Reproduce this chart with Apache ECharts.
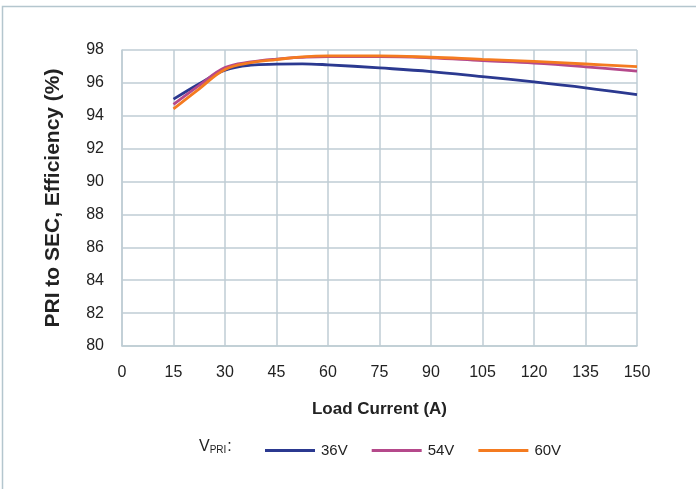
<!DOCTYPE html>
<html>
<head>
<meta charset="utf-8">
<script src="https://cdn.jsdelivr.net/npm/echarts@6/dist/echarts.min.js"></script>
<style>html,body{margin:0;padding:0;background:#fff}#c{width:696px;height:489px}</style>
</head>
<body>
<div id="c"></div>
<script>
const current = [15, 22.5, 30, 37.5, 45, 52.5, 60, 75, 90, 105, 120, 135, 150];
const v36 = [95.01, 95.95, 96.78, 97.08, 97.14, 97.16, 97.1, 96.91, 96.69, 96.38, 96.06, 95.7, 95.28];
const v54 = [94.69, 95.85, 96.93, 97.27, 97.45, 97.55, 97.6, 97.6, 97.52, 97.35, 97.2, 96.98, 96.72];
const v60 = [94.42, 95.64, 96.82, 97.23, 97.42, 97.58, 97.64, 97.64, 97.56, 97.43, 97.31, 97.15, 96.99];
const seriesNames = ['36V', '54V', '60V'];
const colors = ['#2b3990', '#b5498b', '#f47b20'];

const pairs = arr => current.map((x, i) => [x, arr[i]]);
const gridColor = '#bfcdd4';
const font = 'Liberation Sans, Arial, sans-serif';

const chart = echarts.init(document.getElementById('c'), null, {renderer: 'canvas'});
chart.setOption({
  animation: false,
  backgroundColor: '#fff',
  grid: {left: 122, right: 59, top: 50, bottom: 143},
  xAxis: {
    type: 'value', min: 0, max: 150, interval: 15,
    name: 'Load Current (A)', nameLocation: 'middle', nameGap: 55,
    nameTextStyle: {fontFamily: font, fontSize: 17, fontWeight: 'bold', color: '#222'},
    axisLine: {show: true, lineStyle: {color: gridColor, width: 1.5}},
    axisTick: {show: false},
    axisLabel: {fontFamily: font, fontSize: 16, color: '#222', margin: 19},
    splitLine: {show: true, lineStyle: {color: gridColor, width: 1.5}}
  },
  yAxis: {
    type: 'value', min: 80, max: 98, interval: 2,
    name: 'PRI to SEC, Efficiency (%)', nameLocation: 'middle', nameGap: 58, nameRotate: 90,
    nameTextStyle: {fontFamily: font, fontSize: 21, fontWeight: 'bold', color: '#222'},
    axisLine: {show: true, lineStyle: {color: gridColor, width: 1.5}},
    axisTick: {show: false},
    axisLabel: {fontFamily: font, fontSize: 16, color: '#222', margin: 18},
    splitLine: {show: true, lineStyle: {color: gridColor, width: 1.5}}
  },
  legend: {
    left: 260, top: 438, itemWidth: 50, itemHeight: 3, itemGap: 24,
    icon: 'rect',
    textStyle: {fontFamily: font, fontSize: 15, color: '#222', padding: [0, 0, 0, 1]},
    data: seriesNames
  },
  graphic: [
    {type: 'rect', shape: {x: 2.5, y: 6.5, width: 800, height: 600},
     style: {fill: 'none', stroke: '#b4c6ce', lineWidth: 1.5}, silent: true, z: -1},
    {type: 'text', left: 199, top: 439,
     style: {
       text: '{a|V}{b|PRI}{a|:}',
       rich: {
         a: {fontFamily: font, fontSize: 16, fill: '#222'},
         b: {fontFamily: font, fontSize: 10, fill: '#222', padding: [7, 1, 0, 0]}
       }
     }}
  ],
  series: seriesNames.map((n, i) => ({
    name: n, type: 'line', smooth: 0.4, showSymbol: false,
    data: pairs([v36, v54, v60][i]),
    lineStyle: {color: colors[i], width: 2.8},
    itemStyle: {color: colors[i]}
  }))
});
</script>
</body>
</html>
